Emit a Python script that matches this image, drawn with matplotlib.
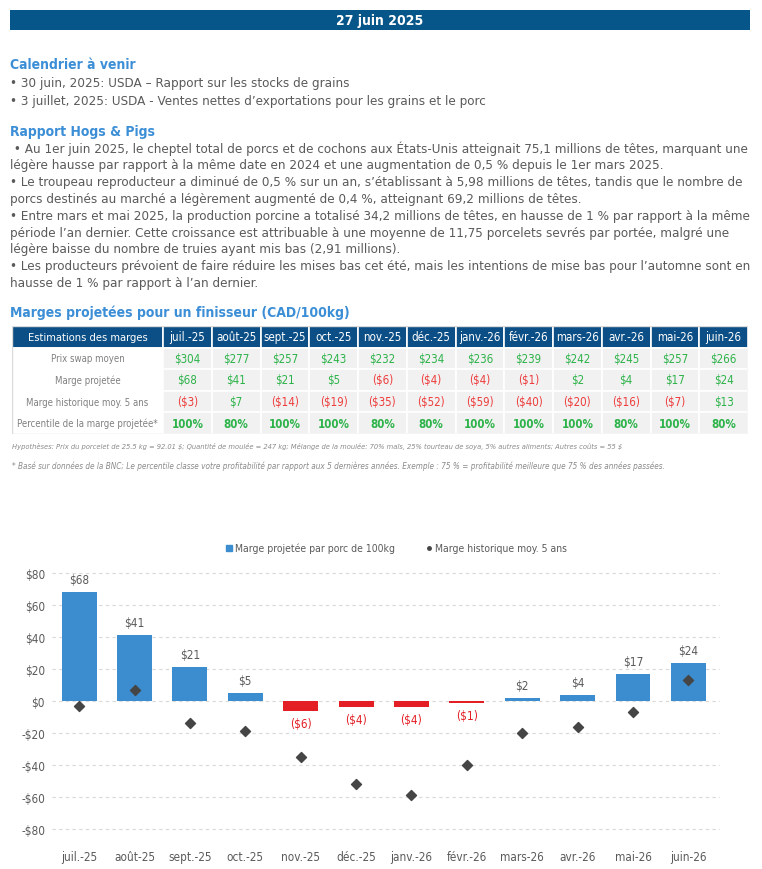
import matplotlib
matplotlib.use("Agg")
import matplotlib.pyplot as plt
from matplotlib import font_manager as fm
from matplotlib.patches import Rectangle

plt.rcParams['text.parse_math'] = False

# police étroite si disponible
noms = {f.name for f in fm.fontManager.ttflist}
if 'Liberation Sans Narrow' in noms:
    POLICE = dict(family='Liberation Sans Narrow')
else:
    POLICE = dict(family='DejaVu Sans', stretch='condensed')

W, H = 762, 870
BLEU_TITRE = '#3C8FD6'
GRIS = '#5A5A5A'

# Données
mois = ['juil.-25', 'août-25', 'sept.-25', 'oct.-25', 'nov.-25', 'déc.-25',
        'janv.-26', 'févr.-26', 'mars-26', 'avr.-26', 'mai-26', 'juin-26']
prix_swap = [304, 277, 257, 243, 232, 234, 236, 239, 242, 245, 257, 266]
marge_proj = [68, 41, 21, 5, -6, -4, -4, -1, 2, 4, 17, 24]
marge_hist = [-3, 7, -14, -19, -35, -52, -59, -40, -20, -16, -7, 13]
percentile = [100, 80, 100, 100, 80, 80, 100, 100, 100, 80, 100, 80]
lignes_tableau = ['Prix swap moyen', 'Marge projetée', 'Marge historique moy. 5 ans',
                  'Percentile de la marge projetée*']

calendrier = ['• 30 juin, 2025: USDA – Rapport sur les stocks de grains',
              '• 3 juillet, 2025: USDA - Ventes nettes d’exportations pour les grains et le porc']
rapport = [
    ' • Au 1er juin 2025, le cheptel total de porcs et de cochons aux États-Unis atteignait 75,1 millions de têtes, marquant une',
    'légère hausse par rapport à la même date en 2024 et une augmentation de 0,5 % depuis le 1er mars 2025.',
    '• Le troupeau reproducteur a diminué de 0,5 % sur un an, s’établissant à 5,98 millions de têtes, tandis que le nombre de',
    'porcs destinés au marché a légèrement augmenté de 0,4 %, atteignant 69,2 millions de têtes.',
    '• Entre mars et mai 2025, la production porcine a totalisé 34,2 millions de têtes, en hausse de 1 % par rapport à la même',
    'période l’an dernier. Cette croissance est attribuable à une moyenne de 11,75 porcelets sevrés par portée, malgré une',
    'légère baisse du nombre de truies ayant mis bas (2,91 millions).',
    '• Les producteurs prévoient de faire réduire les mises bas cet été, mais les intentions de mise bas pour l’automne sont en',
    'hausse de 1 % par rapport à l’an dernier.',
]
note1 = ('Hypothèses: Prix du porcelet de 25.5 kg = 92.01 $; Quantité de moulée = 247 kg; Mélange de la moulée: '
         '70% maïs, 25% tourteau de soya, 5% autres aliments; Autres coûts = 55 $')
note2 = ('* Basé sur données de la BNC; Le percentile classe votre profitabilité par rapport aux 5 dernières années. '
         'Exemple : 75 % = profitabilité meilleure que 75 % des années passées.')


def fx(x):
    return x / W


def fy(y):
    return 1 - y / H


def dollars(v):
    return f'${v}' if v >= 0 else f'(${-v})'


def dollars_axe(v, pos=None):
    v = int(round(v))
    return f'${v}' if v >= 0 else f'-${-v}'


fig = plt.figure(figsize=(W / 100, H / 100), dpi=100)

# bandeau
fig.patches.append(Rectangle((fx(10), fy(31)), fx(740), 20 / H, transform=fig.transFigure,
                             facecolor='#07568A', edgecolor='none'))
fig.text(fx(380), fy(21), '27 juin 2025', color='white', fontsize=10, fontweight='bold',
         ha='center', va='center', **POLICE)

# textes
fig.text(fx(10), fy(65), 'Calendrier à venir', color=BLEU_TITRE, fontsize=10, fontweight='bold',
         va='center', **POLICE)
for i, t in enumerate(calendrier):
    fig.text(fx(10), fy(84 + i * 17), t, color=GRIS, fontsize=9.6, va='center', **POLICE)

fig.text(fx(10), fy(132), 'Rapport Hogs & Pigs', color=BLEU_TITRE, fontsize=10, fontweight='bold',
         va='center', **POLICE)
for i, t in enumerate(rapport):
    fig.text(fx(10), fy(149 + i * 16.8), t, color=GRIS, fontsize=9.6, va='center', **POLICE)

fig.text(fx(10), fy(313), 'Marges projetées pour un finisseur (CAD/100kg)', color=BLEU_TITRE,
         fontsize=10, fontweight='bold', va='center', **POLICE)

# tableau
axt = fig.add_axes([fx(12), fy(435), fx(736), 108 / H])
axt.axis('off')
cellules = [[dollars(v) for v in prix_swap],
            [dollars(v) for v in marge_proj],
            [dollars(v) for v in marge_hist],
            [f'{v}%' for v in percentile]]
texte = [[lignes_tableau[r]] + cellules[r] for r in range(4)]
entete = ['Estimations des marges'] + mois
largeurs = [151] + [48.75] * 12
tab = axt.table(cellText=texte, colLabels=entete, bbox=[0, 0, 1, 1],
                colWidths=[w / sum(largeurs) for w in largeurs], cellLoc='center')
tab.auto_set_font_size(False)
valeurs = [prix_swap, marge_proj, marge_hist, percentile]
for (r, c), cell in tab.get_celld().items():
    cell.set_edgecolor('white')
    cell.set_linewidth(1.2)
    if r == 0:
        cell.set_facecolor('#0B4F86')
        cell.set_text_props(color='white', fontsize=8.3 if c else 8, **POLICE)
    elif c == 0:
        cell.set_facecolor('white')
        cell.set_text_props(color='#808080', fontsize=6.9, **POLICE)
    else:
        v = valeurs[r - 1][c - 1]
        cell.set_facecolor('#F1F1F1')
        couleur = '#2DB34A' if v >= 0 else '#EE3B3B'
        cell.set_text_props(color=couleur, fontsize=8.3,
                            fontweight='bold' if r == 4 else 'normal', **POLICE)
axt.add_patch(Rectangle((0, 0), 1, 1, transform=axt.transAxes, fill=False,
                        edgecolor='#DADADA', linewidth=1, zorder=5))

fig.text(fx(12), fy(446), note1, color='#8A8A8A', fontsize=5.4, style='italic', va='center', **POLICE)
fig.text(fx(12), fy(466), note2, color='#8A8A8A', fontsize=5.9, style='italic', va='center', **POLICE)

# graphique
haut, bas = 570.8, 833.2
ax = fig.add_axes([fx(52), fy(bas), fx(668), (bas - haut) / H])
x = list(range(len(mois)))
couleurs = ['#3C8DD0' if v >= 0 else '#E31E24' for v in marge_proj]
ax.bar(x, marge_proj, width=0.63, color=couleurs, zorder=3)
ax.scatter(x, marge_hist, marker='D', s=26, color='#454545', zorder=4)
for xi, v in zip(x, marge_proj):
    if v >= 0:
        ax.annotate(dollars(v), (xi, v), xytext=(0, 9), textcoords='offset points',
                    ha='center', va='center', fontsize=8.5, color=GRIS, **POLICE)
    else:
        ax.annotate(dollars(v), (xi, v), xytext=(0, -9), textcoords='offset points',
                    ha='center', va='center', fontsize=8.5, color='#E31E24', **POLICE)

ax.set_xlim(-0.49, 11.57)
ax.set_ylim(-82, 82)
ax.set_yticks(range(-80, 81, 20))
ax.yaxis.set_major_formatter(plt.FuncFormatter(dollars_axe))
ax.set_xticks(x)
ax.set_xticklabels(mois)
ax.grid(axis='y', color='#D9D9D9', linestyle=(0, (3, 3)), linewidth=0.8, zorder=0)
for s in ax.spines.values():
    s.set_visible(False)
ax.tick_params(length=0, colors=GRIS)
ax.tick_params(axis='x', pad=13)
ax.tick_params(axis='y', pad=5)
for lab in ax.get_xticklabels() + ax.get_yticklabels():
    lab.set_fontproperties(fm.FontProperties(size=8.5, **POLICE))

# légende
fig.lines.append(plt.Line2D([fx(229)], [fy(549)], marker='s', markersize=4.5, color='#3C8DD0',
                            linestyle='none', transform=fig.transFigure))
fig.text(fx(235), fy(549), 'Marge projetée par porc de 100kg', color=GRIS, fontsize=7.5,
         va='center', **POLICE)
fig.lines.append(plt.Line2D([fx(429)], [fy(549)], marker='o', markersize=2.5, color='#454545',
                            linestyle='none', transform=fig.transFigure))
fig.text(fx(435), fy(549), 'Marge historique moy. 5 ans', color=GRIS, fontsize=7.5,
         va='center', **POLICE)

fig.savefig('out.png', dpi=100)
